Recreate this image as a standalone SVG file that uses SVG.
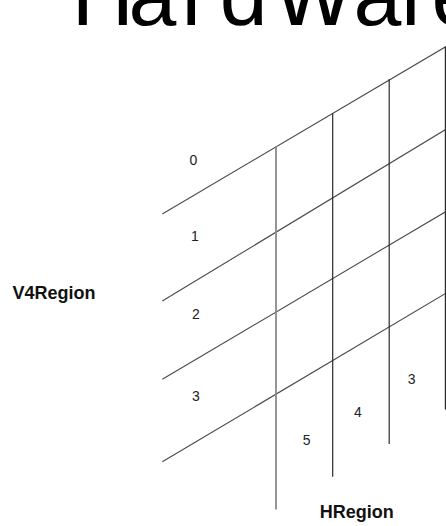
<svg xmlns="http://www.w3.org/2000/svg" width="446" height="526" viewBox="0 0 446 526">
  <style>
    .diag { stroke: #4a4a4a; stroke-width: 1.1; fill: none; }
    .vert { stroke: #2a2a2a; stroke-width: 1.2; fill: none; }
    .vgray { stroke: #8a8a8a; stroke-width: 1.8; fill: none; }
    .num { font-family: "Liberation Sans", Arial, sans-serif; font-size: 14px; fill: #222; text-anchor: middle; }
    .axis { font-family: "Liberation Sans", Arial, sans-serif; font-size: 18px; font-weight: bold; fill: #111; }
    .title { font-family: "Liberation Sans", Arial, sans-serif; font-size: 86px; fill: #000; }
  </style>
  <rect width="446" height="526" fill="#ffffff"/>
  <g id="title">
    <text class="title" x="71.7 128.6 181.6 219.8 276 353.6 401 431.6" y="25">Hard<tspan font-size="104">w</tspan>are</text>
  </g>
  <g id="grid">
    <line class="diag" x1="162.3" y1="214" x2="446" y2="46.5"/>
    <line class="diag" x1="162.3" y1="301" x2="446" y2="129.3"/>
    <line class="diag" x1="162.3" y1="379.3" x2="446" y2="211.5"/>
    <line class="diag" x1="162.3" y1="461.7" x2="446" y2="293.2"/>
    <line class="vgray" x1="276" y1="146" x2="276" y2="509.5"/>
    <line class="vert" x1="332.7" y1="113.3" x2="332.7" y2="476.7"/>
    <line class="vert" x1="389.2" y1="79" x2="389.2" y2="444"/>
    <line class="vert" x1="445.4" y1="46.7" x2="445.4" y2="409.5"/>
  </g>
  <g id="labels">
    <text class="num" x="193.5" y="165">0</text>
    <text class="num" x="195" y="241">1</text>
    <text class="num" x="196" y="319.3">2</text>
    <text class="num" x="196" y="401">3</text>
    <text class="num" x="306.7" y="445">5</text>
    <text class="num" x="358" y="417.3">4</text>
    <text class="num" x="411.7" y="384">3</text>
  </g>
  <g id="V4Region">
    <text class="axis" x="12.5" y="299.3">V4Region</text>
  </g>
  <g id="HRegion">
    <text class="axis" x="319.7" y="518.3">HRegion</text>
  </g>
</svg>
